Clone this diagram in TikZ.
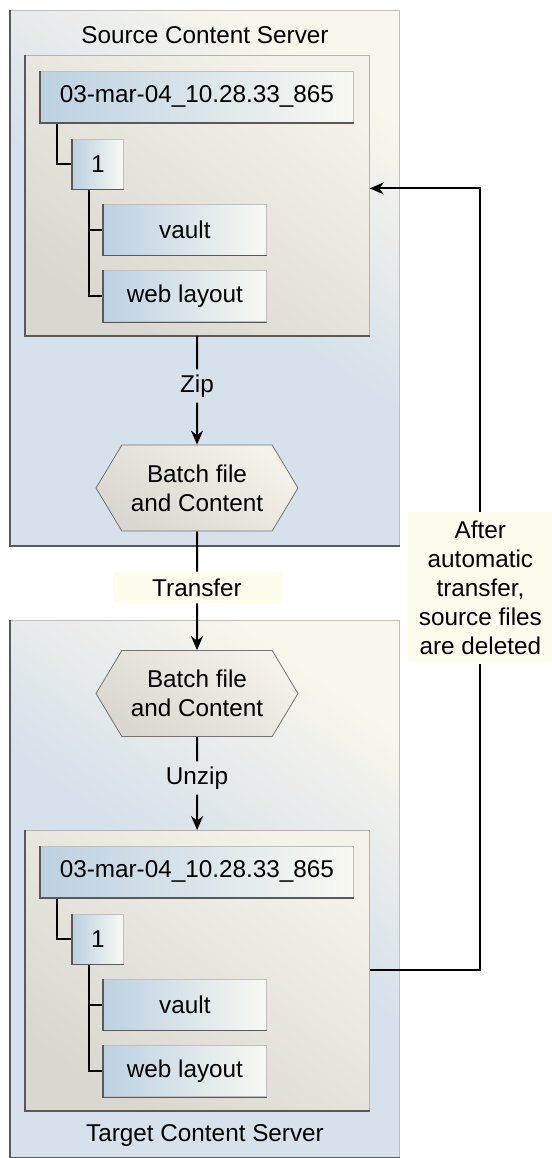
\documentclass[tikz,border=0pt]{standalone}
\usepackage{fontspec}
\setmainfont{Liberation Sans}
\usetikzlibrary{arrows.meta,positioning,shapes.symbols}

\definecolor{srvblue}{HTML}{D6E1EB}
\definecolor{srvcream}{HTML}{F9F6EC}
\definecolor{boxgrey}{HTML}{DAD6D0}
\definecolor{boxlight}{HTML}{F5F2EC}
\definecolor{dirblue}{HTML}{BCD1E2}
\definecolor{dirwhite}{HTML}{F9F9F2}
\definecolor{noteyellow}{HTML}{FDFDEE}

\begin{document}
\begin{tikzpicture}[x=0.5pt,y=-0.5pt,>={Stealth[length=7pt,width=6pt]},
 font=\fontsize{12.15}{14.5}\selectfont,
 srv/.style={draw=black!25,top color=srvcream,bottom color=srvblue,middle color=srvblue,
   shading angle=-35,inner sep=0pt,anchor=north west,minimum width=194.5pt},
 area/.style={draw=black!30,top color=boxlight,bottom color=boxgrey,shading angle=-35,
   inner sep=0pt,anchor=north west,minimum width=172pt,minimum height=140pt},
 dir/.style={draw=black!25,left color=dirblue,right color=dirwhite,inner sep=0pt,
   minimum height=25.5pt,anchor=north west},
 batch/.style={signal,signal to=west and east,signal pointer angle=118,draw=black!55,
   top color=boxlight,bottom color=boxgrey,shading angle=-35,align=center,inner sep=0pt,
   minimum width=101pt,minimum height=43pt},
 bevel/.style={draw=black!65,line width=0.7pt},
 lbl/.style={inner sep=2.5pt},
 tag/.style={fill=noteyellow,inner sep=0pt,minimum width=84.5pt,minimum height=15.5pt},
 flow/.style={line width=1pt,->},
 tree/.style={line width=1pt}]
\useasboundingbox (0,0) rectangle (552,1158);

% server boxes
\node[srv,minimum height=267.5pt] (srcsrv) at (10,10) {};
\node[srv,minimum height=268.5pt] (tgtsrv) at (10,620) {};
\node (srctitle) at (205,35) {Source Content Server};
\node (tgttitle) at (205,1136) {Target Content Server};
\node[area] (srcarea) at (25,55) {};
\node[area] (tgtarea) at (25,830) {};

% folder trees
\foreach \p/\y in {src/71,tgt/846} {
  \node[dir,minimum width=156.5pt] (\p dir) at (40,\y) {03-mar-04\_10.28.33\_865};
  \node[dir,minimum width=25.5pt,minimum height=25pt,below right=8pt and 16pt of \p dir.south west] (\p one) {1};
  \node[dir,minimum width=81.5pt,below right=7pt and 15.5pt of \p one.south west] (\p vault) {vault};
  \node[dir,minimum width=81.5pt,below=7.5pt of \p vault] (\p web) {web layout};
  \draw[tree] ([xshift=8.5pt]\p dir.south west) |- (\p one.west);
  \draw[tree] ([xshift=8.5pt]\p one.south west) |- (\p vault.west);
  \draw[tree] ([xshift=8.5pt]\p one.south west) |- (\p web.west);
}

% darker left and bottom edges
\foreach \n in {srcsrv,tgtsrv,srcarea,tgtarea,srcdir,srcone,srcvault,srcweb,tgtdir,tgtone,tgtvault,tgtweb}
  \draw[bevel] (\n.north west) |- (\n.south east);

% batch files
\node[batch] (srczip) at (197,488) {Batch file\\and Content};
\node[batch] (tgtzip) at (197,693.5) {Batch file\\and Content};
\node[lbl] (zip) at (197,386) {Zip};
\node[tag] (transfer) at (197,587.5) {Transfer};
\node[lbl] (unzip) at (197,778) {Unzip};
\node[fill=noteyellow,align=center,inner sep=0pt,minimum width=72pt,minimum height=75.5pt,anchor=north west] (note) at (408,512)
  {After\\automatic\\transfer,\\source files\\are deleted};

\draw[tree] (srcarea) -- (zip);
\draw[flow] (zip) -- (srczip);
\draw[tree] (srczip) -- (transfer);
\draw[flow] (transfer) -- (tgtzip);
\draw[tree] (tgtzip) -- (unzip);
\draw[flow] (unzip) -- (tgtarea);
\draw[tree] (tgtarea.east) -| (note.south);
\draw[flow] (note.north) |- ([yshift=3.5pt]srcarea.east);
\end{tikzpicture}
\end{document}
